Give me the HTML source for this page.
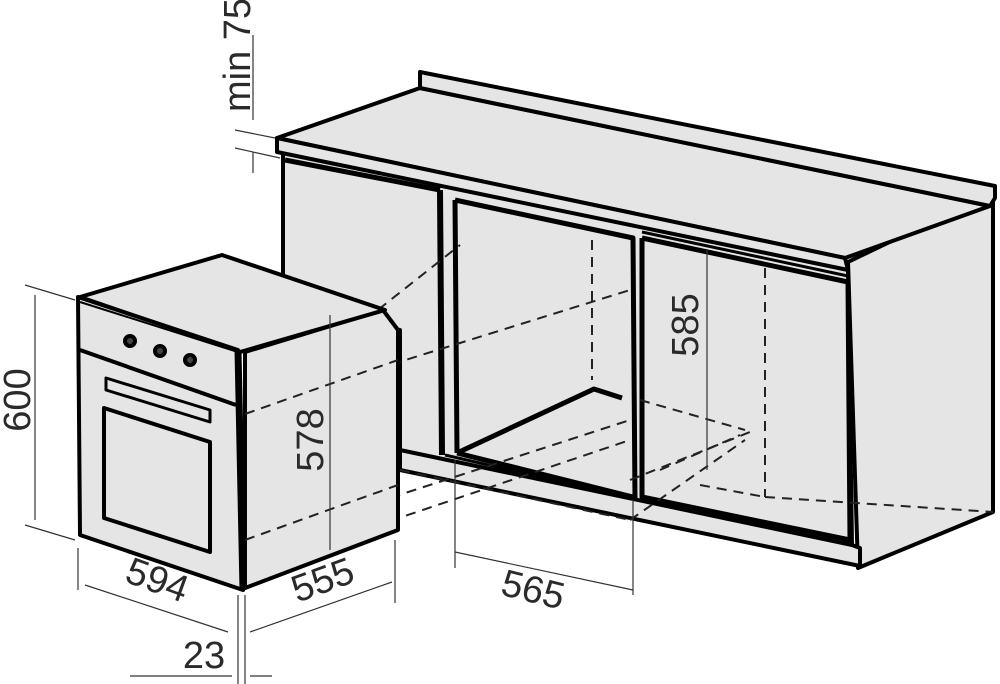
<!DOCTYPE html>
<html><head><meta charset="utf-8"><style>
html,body{margin:0;padding:0;background:#fff;}
svg{display:block;}
text{font-family:"Liberation Sans",sans-serif;fill:#2a2a2a;font-size:38px;}
</style></head><body>
<svg width="1000" height="684" viewBox="0 0 1000 684" xmlns="http://www.w3.org/2000/svg">
<g stroke="#000" stroke-linejoin="round" fill="#e5e5e5">
<polygon points="848,262 993,192 993,512 858,568" stroke-width="4"/>
<polygon points="283,150 848,268 852,545 860,548 860,566 400,470 400,330 283,300" stroke-width="4"/>
<polygon points="277,138 420,88 990,206 845,258" stroke-width="4"/>
<polygon points="420,72 995,186 995,198 990,206 420,88" stroke-width="4"/>
<polygon points="277,138 845,258 848,270 277,152" stroke-width="4"/>
</g>
<g stroke="#000" fill="none" stroke-linejoin="round">
<line x1="400" y1="450" x2="852" y2="545" stroke-width="4"/>
<line x1="285" y1="160" x2="440" y2="190" stroke-width="5"/>
<line x1="440" y1="190" x2="442" y2="455" stroke-width="6"/>
<polyline points="455,200 633,238 635,500" stroke-width="5"/>
<line x1="455" y1="200" x2="457" y2="453" stroke-width="5"/>
<polyline points="457,453 594,389 622,398" stroke-width="5"/>
<line x1="457" y1="453" x2="633" y2="497" stroke-width="5"/>
<line x1="445" y1="455" x2="640" y2="500" stroke-width="3"/>
<polyline points="642,238 848,282 850,540 642,497 642,238" stroke-width="5"/>
<line x1="642" y1="232" x2="848" y2="276" stroke-width="3"/>
</g>
<g stroke="#222" stroke-width="2" stroke-dasharray="10,7" fill="none">
<line x1="592" y1="240" x2="592" y2="380"/>
<line x1="765" y1="268" x2="765" y2="497"/>
<line x1="640" y1="400" x2="745" y2="430"/>
<line x1="700" y1="485" x2="765" y2="497"/>
<line x1="765" y1="497" x2="993" y2="512"/>
<line x1="245" y1="415" x2="460" y2="245"/>
<line x1="245" y1="410" x2="630" y2="290"/>
<line x1="245" y1="545" x2="630" y2="420"/>
<line x1="245" y1="570" x2="630" y2="440"/>
<line x1="400" y1="470" x2="630" y2="520"/>
<line x1="630" y1="520" x2="745" y2="440"/>
<line x1="660" y1="470" x2="740" y2="435"/>
<line x1="630" y1="480" x2="750" y2="432"/>
</g>
<g stroke="#000" stroke-width="4" fill="#e5e5e5" stroke-linejoin="round">
<polygon points="245,352 383,310 398,330 398,530 245,588"/>
<polygon points="80,297 222,255 385,310 240,352"/>
<polygon points="78,297 238,350 243,590 80,535"/>
<line x1="238" y1="350" x2="243" y2="590" stroke-width="7"/>
<line x1="80" y1="302" x2="238" y2="352" stroke-width="2"/>
<line x1="80" y1="350" x2="236" y2="405"/>
<polygon points="106,378 210,410 210,422 106,390" stroke-width="3"/>
<polygon points="104,408 210,442 210,552 104,518" stroke-width="4"/>
<circle cx="130" cy="341" r="5" fill="#444"/>
<circle cx="160" cy="351" r="5" fill="#444"/>
<circle cx="190" cy="360" r="5" fill="#444"/>
</g>
<g stroke="#222" stroke-width="2" stroke-dasharray="10,7">
<line x1="245" y1="414" x2="398" y2="360"/>
<line x1="245" y1="540" x2="398" y2="485"/>
</g>
<g stroke="#333" stroke-width="1.2" fill="none">
<line x1="25" y1="285" x2="75" y2="300"/>
<line x1="25" y1="525" x2="75" y2="540"/>
<line x1="35" y1="295" x2="35" y2="520"/>
<line x1="78" y1="548" x2="78" y2="590"/>
<line x1="85" y1="585" x2="228" y2="632"/>
<line x1="330" y1="315" x2="330" y2="550"/>
<line x1="395" y1="540" x2="395" y2="603"/>
<line x1="250" y1="632" x2="392" y2="582"/>
<line x1="238" y1="595" x2="238" y2="684"/>
<line x1="245" y1="595" x2="245" y2="684"/>
<line x1="130" y1="676" x2="232" y2="676"/>
<line x1="250" y1="676" x2="272" y2="676"/>
<line x1="455" y1="460" x2="455" y2="568"/>
<line x1="633" y1="500" x2="633" y2="595"/>
<line x1="455" y1="552" x2="633" y2="590"/>
<line x1="707" y1="250" x2="707" y2="470"/>
<line x1="253" y1="35" x2="253" y2="120"/>
<line x1="253" y1="152" x2="253" y2="173"/>
<line x1="235" y1="130" x2="275" y2="138"/>
<line x1="235" y1="148" x2="280" y2="158"/>
</g>
<text transform="translate(30,400) rotate(-90)" text-anchor="middle">600</text>
<text transform="translate(153,592) rotate(20)" text-anchor="middle">594</text>
<text transform="translate(327,592) rotate(-20)" text-anchor="middle">555</text>
<text x="204" y="668" text-anchor="middle">23</text>
<text transform="translate(323,440) rotate(-90)" text-anchor="middle">578</text>
<text transform="translate(698,325) rotate(-90)" text-anchor="middle">585</text>
<text transform="translate(530,602) rotate(14)" text-anchor="middle">565</text>
<text transform="translate(250,55) rotate(-90)" text-anchor="middle">min 75</text>
</svg>
</body></html>
